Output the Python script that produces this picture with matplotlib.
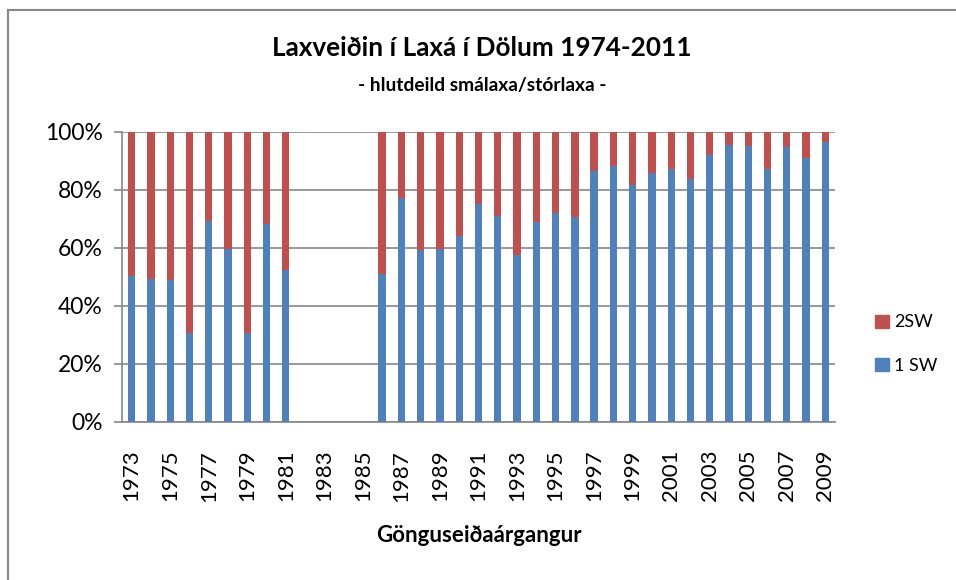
import numpy as np
import matplotlib
matplotlib.use("Agg")
import matplotlib.pyplot as plt
from matplotlib.lines import Line2D
from matplotlib.patches import Patch

plt.rcParams['font.family'] = ['Lato', 'DejaVu Sans']

# Gögn: ár og hlutfall 1 SW (smálax) í %
years = list(range(1973, 2010))
one_sw = [50.2, 49.3, 48.9, 30.7, 69.3, 59.6, 30.8, 68.2, 52.4,
          np.nan, np.nan, np.nan, np.nan,
          51.1, 77.2, 59.2, 59.5, 64.2, 75.1, 71.0, 57.5, 68.9, 71.9, 70.6,
          86.6, 88.4, 81.7, 85.9, 87.1, 83.7, 92.0, 95.4, 95.2, 87.4, 94.7,
          91.2, 96.4]
one_sw = np.array(one_sw)
two_sw = 100 - one_sw

blue = "#4F81BD"
red = "#C0504D"
grid_c = "#868686"

fig = plt.figure(figsize=(9.56, 5.8), dpi=100)
ax = fig.add_axes([122 / 956, 1 - 422 / 580, (835 - 122) / 956, (422 - 132) / 580])

x = np.arange(len(years))
ax.bar(x, one_sw, width=0.38, color=blue, zorder=3)
ax.bar(x, two_sw, width=0.38, bottom=one_sw, color=red, zorder=3)

ax.set_xlim(-0.5, len(years) - 0.5)
ax.set_ylim(0, 100)
ax.set_yticks(range(0, 101, 20))
ax.set_yticklabels([f"{v}%" for v in range(0, 101, 20)], fontsize=16.5)
ax.set_xticks(x[::2])
ax.set_xticklabels([str(y) for y in years[::2]], rotation=90, fontsize=16)
ax.tick_params(axis='x', length=0, pad=20)
ax.tick_params(axis='y', length=6, color=grid_c, width=1.2, pad=8)
ax.yaxis.grid(True, color=grid_c, linewidth=1.2, zorder=0)
for s in ['top', 'right']:
    ax.spines[s].set_visible(False)
for s in ['left', 'bottom']:
    ax.spines[s].set_color(grid_c)
    ax.spines[s].set_linewidth(1.2)

fig.text(482 / 956, 1 - 48 / 580, "Laxveiðin í Laxá í Dölum 1974-2011",
         ha='center', va='center', fontsize=18.8, fontweight='bold')
fig.text(482 / 956, 1 - 85 / 580, "- hlutdeild smálaxa/stórlaxa -",
         ha='center', va='center', fontsize=13.8, fontweight='bold')
fig.text(479 / 956, 1 - 535 / 580, "Gönguseiðaárgangur",
         ha='center', va='center', fontsize=16, fontweight='bold')

handles = [Patch(color=red), Patch(color=blue)]
fig.legend(handles, ["2SW", "1 SW"], loc='center left',
           bbox_to_anchor=(859 / 956, 1 - 344 / 580), frameon=False,
           fontsize=13, handlelength=0.75, handleheight=0.75,
           handletextpad=0.3, labelspacing=1.5)

# ytri rammi
fig.add_artist(Line2D([8 / 956, 8 / 956], [0, 1 - 10 / 580],
                      transform=fig.transFigure, color=grid_c, linewidth=1.5))
fig.add_artist(Line2D([8 / 956, 1], [1 - 10 / 580, 1 - 10 / 580],
                      transform=fig.transFigure, color=grid_c, linewidth=1.5))

fig.savefig("out.png", dpi=100)
